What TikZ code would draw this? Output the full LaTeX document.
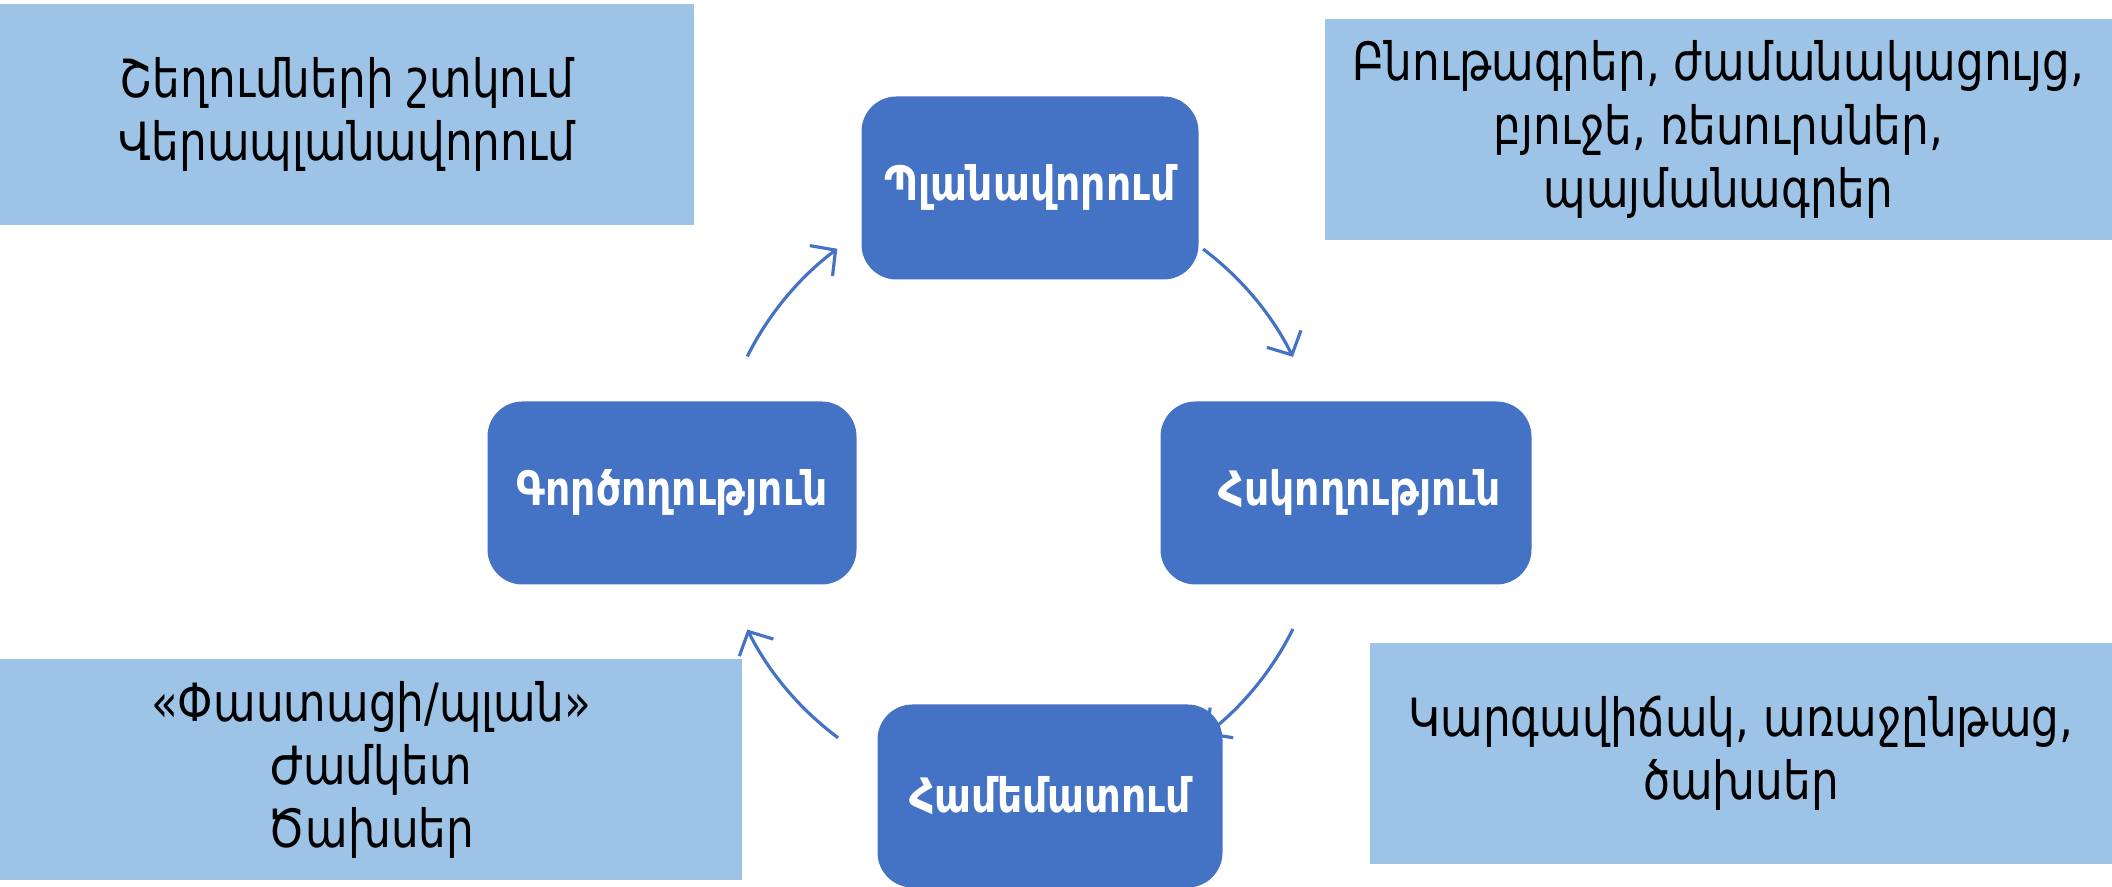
\documentclass[tikz,border=0pt]{standalone}
\usepackage{fontspec}
\setmainfont{DejaVu Sans}[FakeStretch=0.83]
\usetikzlibrary{arrows.meta,backgrounds,calc}
\definecolor{phaseblue}{HTML}{4472C4}
\definecolor{noteblue}{HTML}{9DC3E6}
\tikzset{
  phase/.style={fill=phaseblue, rounded corners=0.35cm, text=white,
    font=\bfseries\fontsize{13.5}{16}\selectfont, minimum height=1.83cm},
  note/.style={fill=noteblue, align=center, font=\fontsize{15}{18}\selectfont,
    minimum height=2.21cm},
  cyc/.style={phaseblue, line width=0.9pt, -{Straight Barb[length=1.8mm,width=3.8mm]}}
}
\begin{document}
\begin{tikzpicture}
        \useasboundingbox (0,0) rectangle (21.12,8.87);
        \node[note, minimum width=6.94cm] (fix) at (3.47, 7.725) {Շեղումների շտկում\\Վերապլանավորում};
        \node[note, minimum width=7.87cm] (docs) at (17.185, 7.575) {Բնութագրեր, ժամանակացույց,\\բյուջե, ռեսուրսներ,\\պայմանագրեր};
        \node[note, minimum width=7.42cm] (fact) at (3.71, 1.17) {«Փաստացի/պլան»\\Ժամկետ\\Ծախսեր};
        \node[note, minimum width=7.42cm] (state) at (17.41, 1.335) {Կարգավիճակ, առաջընթաց,\\ծախսեր};
        \node[phase, minimum width=3.37cm, text depth=0.12cm] (plan) at (10.30, 6.99) {Պլանավորում};
        \node[phase, minimum width=3.69cm] (act) at (6.72, 3.94) {Գործողություն};
        \node[phase, minimum width=3.71cm, inner xsep=0.2cm, align=right, text width=3.1cm] (ctrl) at (13.46, 3.94) {Հսկողություն};
        \node[phase, minimum width=3.45cm] (cmp) at (10.50, 0.91) {Համեմատում};
        % cycle arcs around the hub
        \coordinate (hub) at (10.20, 3.94);
        \begin{pgfonlayer}{background}
        \draw[cyc] ($(hub)+(153.4:3.05)$) arc[start angle=153.4, end angle=126.8, radius=3.05];
        \draw[cyc] ($(hub)+(53.1:3.05)$) arc[start angle=53.1, end angle=26.5, radius=3.05];
        \draw[cyc] ($(hub)+(-26.5:3.05)$) arc[start angle=-26.5, end angle=-52.5, radius=3.05];
        \draw[cyc] ($(hub)+(-126.6:3.05)$) arc[start angle=-126.6, end angle=-153.4, radius=3.05];
        \end{pgfonlayer}
\end{tikzpicture}
\end{document}
